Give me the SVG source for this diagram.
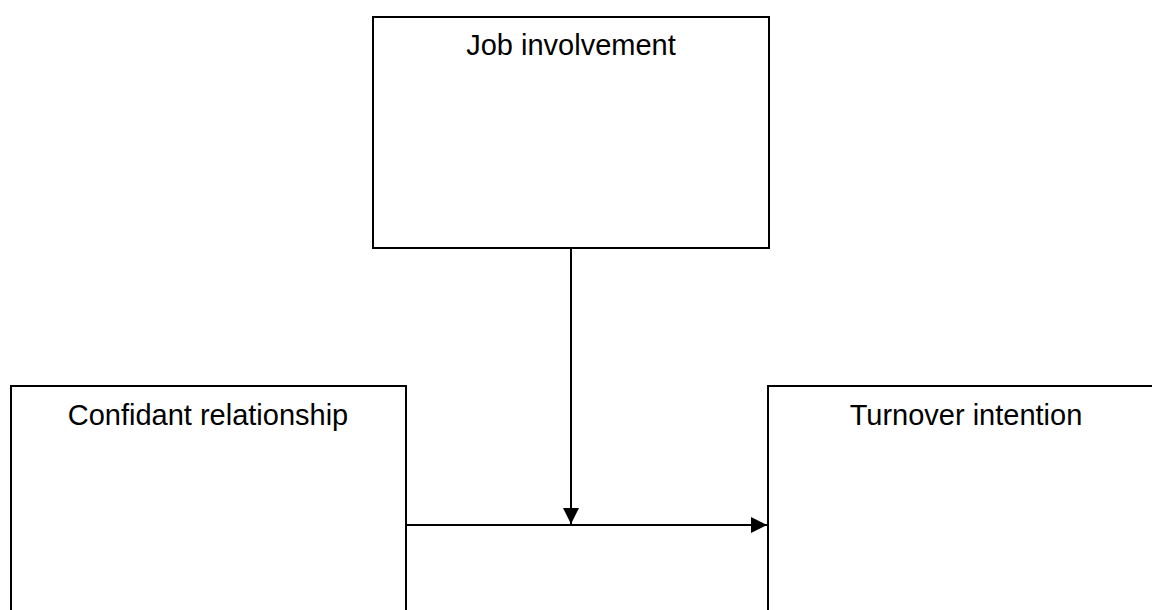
<svg xmlns="http://www.w3.org/2000/svg" width="1152" height="610" viewBox="0 0 1152 610">
<style>
.box{fill:#fff;stroke:#000;stroke-width:2}
.lbl{font-family:"Liberation Sans",Arial,sans-serif;font-size:29px;fill:#000;text-anchor:middle}
.edge{stroke:#000;stroke-width:2;fill:none}
</style>
<defs>
<marker id="ah" markerUnits="userSpaceOnUse" markerWidth="16" markerHeight="16" viewBox="0 0 16 16" refX="16" refY="8" orient="auto">
<path d="M0,0 L16,8 L0,16 Z" fill="#000"/>
</marker>
</defs>
<rect width="1152" height="610" fill="#fff"/>
<g id="job">
<rect class="box" x="373" y="17" width="396" height="231"/>
<text class="lbl" x="571" y="55">Job involvement</text>
</g>
<g id="confidant">
<rect class="box" x="11" y="386" width="395" height="260"/>
<text class="lbl" x="208" y="425">Confidant relationship</text>
</g>
<g id="turnover">
<rect class="box" x="768" y="386" width="396" height="260"/>
<text class="lbl" x="966" y="425">Turnover intention</text>
</g>
<g id="connectors">
<line class="edge" x1="406" y1="525" x2="767" y2="525" marker-end="url(#ah)"/>
<line class="edge" x1="571" y1="248" x2="571" y2="524" marker-end="url(#ah)"/>
</g>
</svg>
